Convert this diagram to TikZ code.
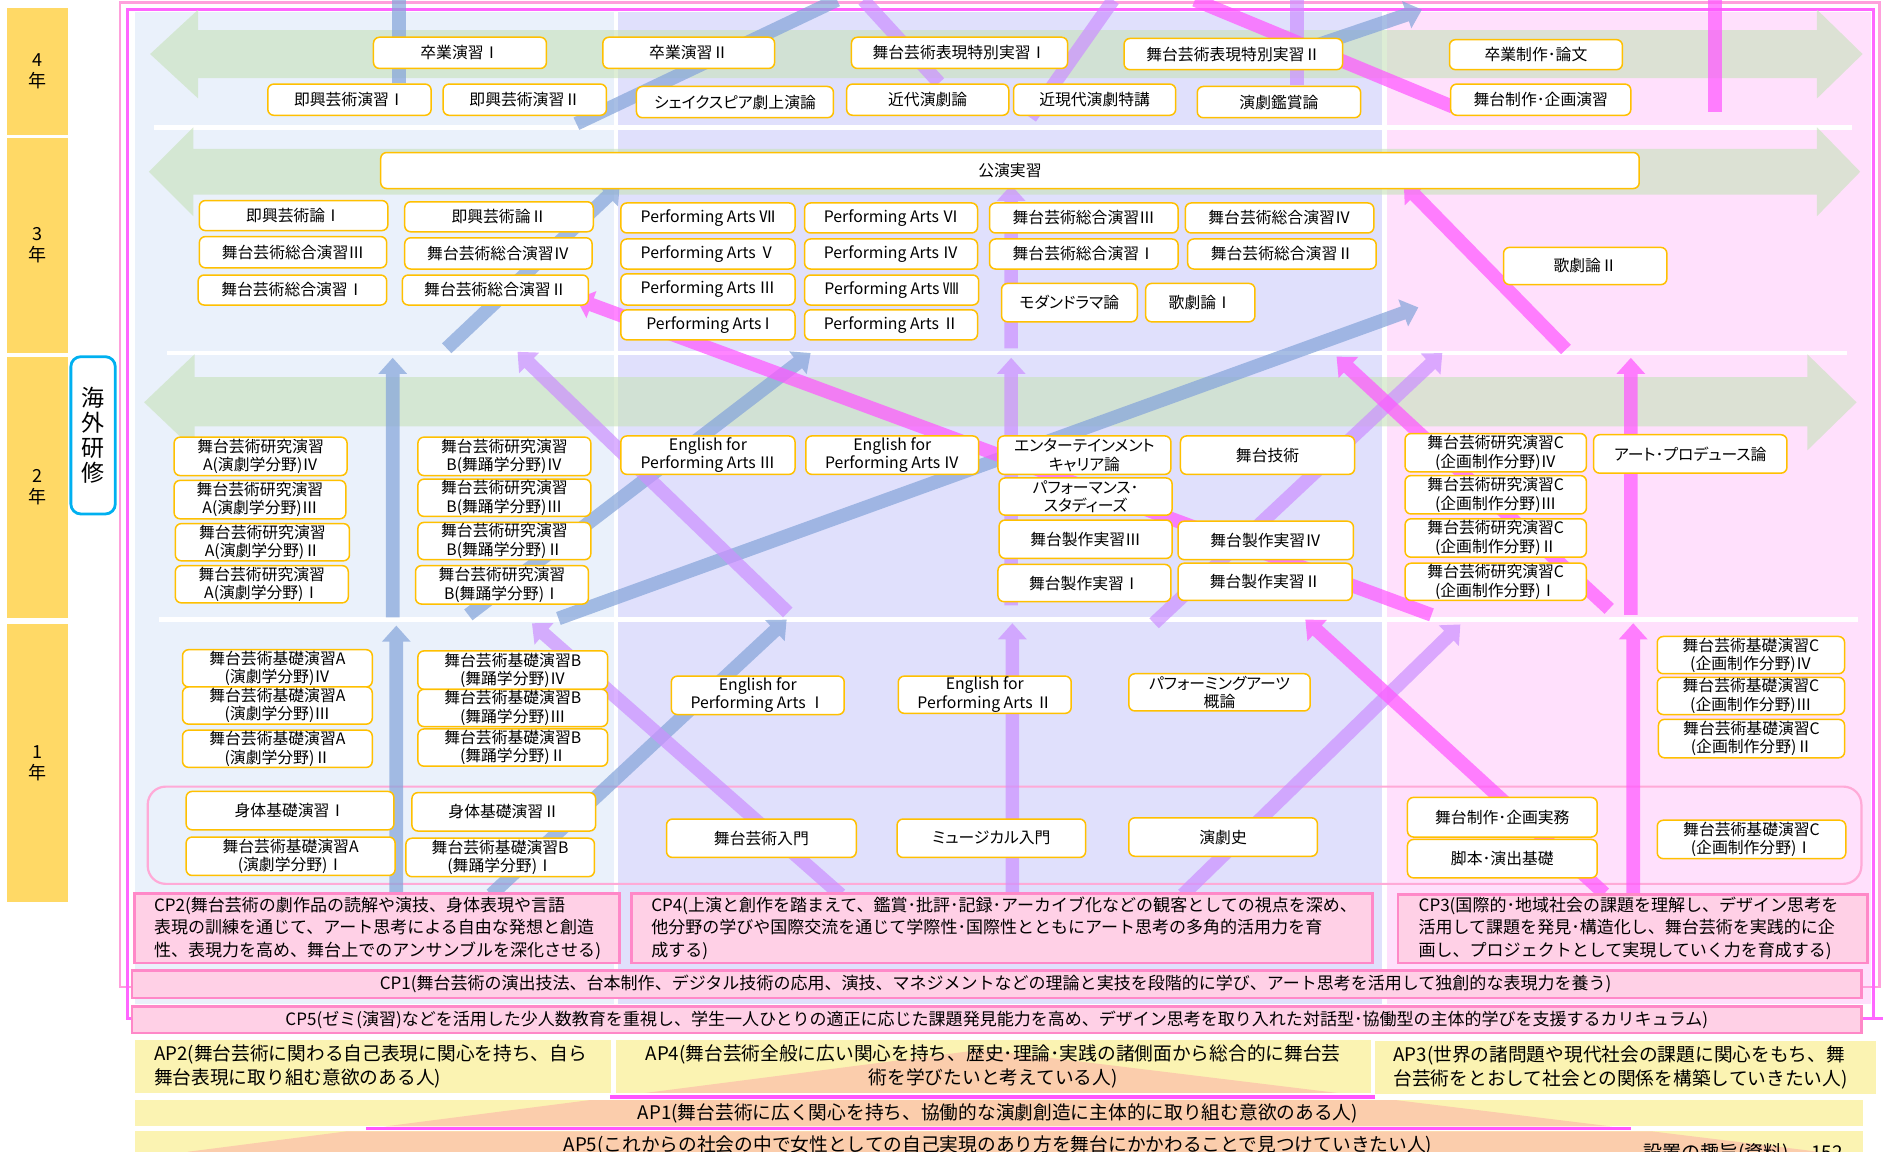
\documentclass[tikz,border=0pt]{standalone}
\usepackage{fontspec}
\setmainfont{Noto Sans CJK JP}
\newfontfamily\pfont{Noto Sans CJK JP}[RawFeature=+palt]
\usetikzlibrary{calc}
\definecolor{bgL}{RGB}{234,241,251}
\definecolor{bgM}{RGB}{224,224,252}
\definecolor{bgR}{RGB}{255,224,252}
\definecolor{grn}{RGB}{200,226,188}
\definecolor{boxor}{RGB}{255,192,0}
\definecolor{yrY}{RGB}{255,217,102}
\definecolor{kaiB}{RGB}{0,176,240}
\definecolor{frL}{RGB}{255,160,220}
\definecolor{frM}{RGB}{255,102,255}
\definecolor{grpP}{RGB}{255,170,215}
\definecolor{cpF}{RGB}{255,208,230}
\definecolor{cpB}{RGB}{255,136,200}
\definecolor{apY}{RGB}{251,243,178}
\definecolor{apP}{RGB}{251,205,172}
\definecolor{apL}{RGB}{255,85,255}
\definecolor{aBlue}{RGB}{134,165,218}
\definecolor{aLav}{RGB}{204,144,255}
\definecolor{aMag}{RGB}{255,87,255}
\tikzset{
  cbox/.style={draw=boxor, line width=0.75pt, fill=white, rounded corners=3pt, inner sep=0pt, align=center, font=\pfont\fontsize{7.9}{9.2}\selectfont},
  yrbox/.style={fill=yrY, inner sep=0pt, align=center, font=\fontsize{9}{10.5}\selectfont},
  kaibox/.style={draw=kaiB, line width=1.4pt, fill=white, rounded corners=5pt, inner sep=0pt, align=center, font=\fontsize{11.5}{12.4}\selectfont},
  cpbox/.style={draw=cpB, line width=1.2pt, fill=cpF, inner sep=0pt},
  apbox/.style={fill=apY, inner sep=0pt},
  cptext/.style={inner sep=0pt, align=left, font=\fontsize{8.5}{11.1}\selectfont},
  aptext/.style={inner sep=0pt, align=left, font=\fontsize{9.35}{11.7}\selectfont},
  blueA/.style={fill=aBlue, fill opacity=0.72},
  lavA/.style={fill=aLav, fill opacity=0.7},
  magA/.style={fill=aMag, fill opacity=0.72},
  grnA/.style={fill=grn, fill opacity=0.62},
}
\newcommand\rbox[7][cbox]{\node[#1, minimum width={(#5-#3)*0.6pt}, minimum height={(#6-#4)*0.6pt}] (#2) at ({(#3+#5)/2},{(#4+#6)/2}) {#7};}
\newcommand\fatarrow[3]{%
  \coordinate (faA) at (#2);
  \coordinate (faB) at (#3);
  \coordinate (faH) at ($(faB)!8pt!(faA)$);
  \fill[#1] ($(faA)!3.4pt!90:(faB)$) -- ($(faH)!3.4pt!90:(faB)$) -- ($(faH)!7.2pt!90:(faB)$) -- (faB) -- ($(faH)!7.2pt!-90:(faB)$) -- ($(faH)!3.4pt!-90:(faB)$) -- ($(faA)!3.4pt!-90:(faB)$) -- cycle;}
\newcommand\fatbar[3]{%
  \coordinate (faA) at (#2);
  \coordinate (faB) at (#3);
  \fill[#1] ($(faA)!3.4pt!90:(faB)$) -- ($(faB)!3.4pt!-90:(faA)$) -- ($(faB)!3.4pt!90:(faA)$) -- ($(faA)!3.4pt!-90:(faB)$) -- cycle;}
\begin{document}
\begin{tikzpicture}[x=0.6pt,y=-0.6pt]
\useasboundingbox (0,0) rectangle (1568,959);
\clip (0,0) rectangle (1568,959);
% column backgrounds
\fill[bgL] (112,10) rectangle (511,836);
\fill[bgM] (515,10) rectangle (1151,836);
\fill[bgR] (1155,10) rectangle (1558,836);
% white year separators
\draw[white, line width=2.2pt] (128,106) -- (1542,106);
\draw[white, line width=2.2pt] (139,294) -- (1538,294);
\draw[white, line width=2.2pt] (132,516) -- (1547,516);
% frames
\draw[frL, line width=1.3pt] (110,822) -- (100,822) -- (100,2) -- (1565,2) -- (1565,822) -- (1550,822);
\draw[frM, line width=1.5pt] (110,848) -- (106,848) -- (106,8) -- (1560,8) -- (1560,848);
\draw[frM, line width=1.5pt] (1550,848) -- (1568,848);
% green year arrows
\fill[grnA] (125,45) -- (165,8) -- (165,25) -- (1513,25) -- (1513,8) -- (1551,45) -- (1513,82) -- (1513,65) -- (165,65) -- (165,82) -- cycle;
\fill[grnA] (124,143) -- (161,106) -- (161,124) -- (1513,124) -- (1513,106) -- (1549,143) -- (1513,180) -- (1513,162) -- (161,162) -- (161,180) -- cycle;
\fill[grnA] (120,335) -- (162,295) -- (162,314) -- (1505,314) -- (1505,295) -- (1546,335) -- (1505,375) -- (1505,355) -- (162,355) -- (162,375) -- cycle;
% first-year group
\draw[grpP, line width=1.1pt, rounded corners=9pt] (123,655) rectangle (1550,736);
% thick arrows
\fatbar{blueA}{332,0}{332,69}
\fatbar{blueA}{480,103}{697,0}
\fatarrow{blueA}{1060,50}{1184,8}
\fatarrow{blueA}{372,290}{516,154}
\fatarrow{blueA}{327,514}{327,298}
\fatarrow{blueA}{330,744}{330,521}
\fatarrow{blueA}{390,512}{675,294}
\fatarrow{blueA}{465,515}{1181,256}
\fatarrow{blueA}{409,745}{655,516}
\fatbar{lavA}{719,0}{782,69}
\fatbar{lavA}{858,98}{927,0}
\fatbar{lavA}{1080,0}{1080,71}
\fatarrow{lavA}{842,290}{842,154}
\fatarrow{lavA}{656,510}{431,293}
\fatarrow{lavA}{842,504}{842,298}
\fatarrow{lavA}{961,519}{1201,294}
\fatarrow{lavA}{700,745}{443,519}
\fatarrow{lavA}{843,744}{843,519}
\fatarrow{lavA}{985,745}{1216,520}
\fatbar{magA}{995,0}{1210,89}
\fatbar{magA}{1428,0}{1428,93}
\fatarrow{magA}{1304,291}{1169,153}
\fatarrow{magA}{1192,512}{480,249}
\fatarrow{magA}{1340,507}{1113,297}
\fatarrow{magA}{1358,512}{1358,298}
\fatarrow{magA}{1336,744}{1087,516}
\fatarrow{magA}{1360,744}{1360,519}
% year labels
\rbox[yrbox]{yr4}{6}{7}{57}{112}{4\\年}
\rbox[yrbox]{yr3}{6}{115}{57}{294}{3\\年}
\rbox[yrbox]{yr2}{6}{297}{57}{515}{2\\年}
\rbox[yrbox]{yr1}{6}{520}{57}{751}{1\\年}
\rbox[kaibox]{kaigai}{59}{297}{96}{428}{海\\外\\研\\修}
% year 4
\rbox{y4a}{311}{31}{455}{57}{卒業演習Ⅰ}
\rbox{y4b}{502}{31}{645}{57}{卒業演習Ⅱ}
\rbox{y4c}{709}{31}{889}{57}{舞台芸術表現特別実習Ⅰ}
\rbox{y4d}{936}{32}{1118}{58}{舞台芸術表現特別実習Ⅱ}
\rbox{y4e}{1207}{33}{1351}{58}{卒業制作･論文}
\rbox{y4f}{223}{70}{359}{96}{即興芸術演習Ⅰ}
\rbox{y4g}{369}{70}{505}{96}{即興芸術演習Ⅱ}
\rbox{y4h}{530}{72}{694}{98}{シェイクスピア劇上演論}
\rbox{y4i}{705}{70}{840}{96}{近代演劇論}
\rbox{y4j}{844}{70}{979}{96}{近現代演劇特講}
\rbox{y4k}{997}{72}{1133}{98}{演劇鑑賞論}
\rbox{y4l}{1208}{70}{1358}{96}{舞台制作･企画演習}
% year 3
\rbox{kouen}{317}{127}{1365}{157}{公演実習}
\rbox{y3a}{166}{167}{323}{192}{即興芸術論Ⅰ}
\rbox{y3b}{337}{168}{494}{193}{即興芸術論Ⅱ}
\rbox{y3c}{166}{197}{322}{223}{舞台芸術総合演習Ⅲ}
\rbox{y3d}{337}{198}{493}{224}{舞台芸術総合演習Ⅳ}
\rbox{y3e}{165}{229}{322}{254}{舞台芸術総合演習Ⅰ}
\rbox{y3f}{335}{229}{490}{254}{舞台芸術総合演習Ⅱ}
\rbox{pa7}{517}{169}{662}{194}{Performing Arts Ⅶ}
\rbox{pa6}{670}{169}{814}{194}{Performing Arts Ⅵ}
\rbox{pa5}{517}{199}{662}{224}{Performing Arts Ⅴ}
\rbox{pa4}{670}{199}{814}{224}{Performing Arts Ⅳ}
\rbox{pa3}{517}{228}{662}{254}{Performing Arts Ⅲ}
\rbox{pa8}{670}{229}{815}{254}{Performing Arts Ⅷ}
\rbox{pa1}{517}{258}{662}{283}{Performing Arts I}
\rbox{pa2}{670}{258}{814}{283}{Performing Arts Ⅱ}
\rbox{y3g}{824}{169}{981}{194}{舞台芸術総合演習Ⅲ}
\rbox{y3h}{987}{169}{1144}{194}{舞台芸術総合演習Ⅳ}
\rbox{y3i}{824}{199}{981}{224}{舞台芸術総合演習Ⅰ}
\rbox{y3j}{989}{199}{1146}{224}{舞台芸術総合演習Ⅱ}
\rbox{y3k}{834}{236}{947}{268}{モダンドラマ論}
\rbox{y3l}{954}{236}{1045}{268}{歌劇論Ⅰ}
\rbox{y3m}{1252}{206}{1388}{237}{歌劇論Ⅱ}
% year 2
\rbox{ra4}{145}{364}{289}{396}{舞台芸術研究演習\\A(演劇学分野)Ⅳ}
\rbox{ra3}{145}{400}{288}{432}{舞台芸術研究演習\\A(演劇学分野)Ⅲ}
\rbox{ra2}{146}{436}{291}{467}{舞台芸術研究演習\\A(演劇学分野)Ⅱ}
\rbox{ra1}{146}{471}{290}{502}{舞台芸術研究演習\\A(演劇学分野)Ⅰ}
\rbox{rb4}{348}{364}{492}{396}{舞台芸術研究演習\\B(舞踊学分野)Ⅳ}
\rbox{rb3}{348}{399}{492}{430}{舞台芸術研究演習\\B(舞踊学分野)Ⅲ}
\rbox{rb2}{348}{435}{492}{466}{舞台芸術研究演習\\B(舞踊学分野)Ⅱ}
\rbox{rb1}{346}{471}{490}{503}{舞台芸術研究演習\\B(舞踊学分野)Ⅰ}
\rbox{en3}{517}{363}{662}{395}{English for\\Performing Arts Ⅲ}
\rbox{en4}{671}{363}{815}{395}{English for\\Performing Arts Ⅳ}
\rbox{ent}{831}{363}{975}{395}{エンターテインメント\\キャリア論}
\rbox{pfs}{832}{398}{976}{429}{パフォーマンス･\\スタディーズ}
\rbox{sj3}{832}{433}{976}{465}{舞台製作実習Ⅲ}
\rbox{sj1}{831}{470}{975}{501}{舞台製作実習Ⅰ}
\rbox{gij}{983}{363}{1128}{395}{舞台技術}
\rbox{sj4}{981}{434}{1127}{466}{舞台製作実習Ⅳ}
\rbox{sj2}{981}{469}{1126}{500}{舞台製作実習Ⅱ}
\rbox{rc4}{1170}{361}{1321}{393}{舞台芸術研究演習C\\(企画制作分野)Ⅳ}
\rbox{rc3}{1170}{396}{1321}{428}{舞台芸術研究演習C\\(企画制作分野)Ⅲ}
\rbox{rc2}{1170}{432}{1321}{464}{舞台芸術研究演習C\\(企画制作分野)Ⅱ}
\rbox{rc1}{1170}{469}{1321}{500}{舞台芸術研究演習C\\(企画制作分野)Ⅰ}
\rbox{apr}{1327}{362}{1488}{394}{アート･プロデュース論}
% year 1
\rbox{ka4}{152}{541}{310}{572}{舞台芸術基礎演習A\\(演劇学分野)Ⅳ}
\rbox{ka3}{152}{572}{310}{603}{舞台芸術基礎演習A\\(演劇学分野)Ⅲ}
\rbox{ka2}{152}{608}{310}{639}{舞台芸術基礎演習A\\(演劇学分野)Ⅱ}
\rbox{kb4}{348}{542}{506}{574}{舞台芸術基礎演習B\\(舞踊学分野)Ⅳ}
\rbox{kb3}{348}{574}{506}{605}{舞台芸術基礎演習B\\(舞踊学分野)Ⅲ}
\rbox{kb2}{348}{607}{506}{638}{舞台芸術基礎演習B\\(舞踊学分野)Ⅱ}
\rbox{en1}{559}{563}{703}{595}{English for\\Performing Arts Ⅰ}
\rbox{en2}{748}{563}{892}{594}{English for\\Performing Arts Ⅱ}
\rbox{pag}{940}{561}{1091}{592}{パフォーミングアーツ\\概論}
\rbox{kc4}{1380}{530}{1536}{561}{舞台芸術基礎演習C\\(企画制作分野)Ⅳ}
\rbox{kc3}{1380}{564}{1536}{595}{舞台芸術基礎演習C\\(企画制作分野)Ⅲ}
\rbox{kc2}{1381}{599}{1536}{631}{舞台芸術基礎演習C\\(企画制作分野)Ⅱ}
\rbox{sk1}{155}{659}{328}{691}{身体基礎演習Ⅰ}
\rbox{sk2}{343}{660}{496}{692}{身体基礎演習Ⅱ}
\rbox{ka1}{155}{697}{329}{729}{舞台芸術基礎演習A\\(演劇学分野)Ⅰ}
\rbox{kb1}{338}{698}{495}{730}{舞台芸術基礎演習B\\(舞踊学分野)Ⅰ}
\rbox{nyu}{555}{682}{713}{714}{舞台芸術入門}
\rbox{mus}{747}{682}{904}{714}{ミュージカル入門}
\rbox{eng}{940}{681}{1097}{713}{演劇史}
\rbox{kjm}{1172}{664}{1330}{697}{舞台制作･企画実務}
\rbox{kyk}{1172}{699}{1330}{731}{脚本･演出基礎}
\rbox{kc1}{1380}{683}{1537}{715}{舞台芸術基礎演習C\\(企画制作分野)Ⅰ}
% CP boxes
\rbox[cpbox]{cp2}{112}{744}{516}{802}{}
\rbox[cpbox]{cp4}{526}{744}{1143}{802}{}
\rbox[cpbox]{cp3}{1164}{745}{1555}{802}{}
\rbox[cpbox]{cp1}{110}{808}{1550}{831}{}
\rbox[cpbox]{cp5}{110}{838}{1550}{860}{}
\node[cptext, anchor=west] (cp2t) at (128,773) {CP2(舞台芸術の劇作品の読解や演技、身体表現や言語\\表現の訓練を通じて、アート思考による自由な発想と創造\\性、表現力を高め、舞台上でのアンサンブルを深化させる)};
\node[cptext, anchor=west] (cp4t) at (542,773) {CP4(上演と創作を踏まえて、鑑賞･批評･記録･アーカイブ化などの観客としての視点を深め、\\他分野の学びや国際交流を通じて学際性･国際性とともにアート思考の多角的活用力を育\\成する)};
\node[cptext, anchor=west] (cp3t) at (1181,773) {CP3(国際的･地域社会の課題を理解し、デザイン思考を\\活用して課題を発見･構造化し、舞台芸術を実践的に企\\画し、プロジェクトとして実現していく力を育成する)};
\node[cptext] (cp1t) at (829,819.5) {CP1(舞台芸術の演出技法、台本制作、デジタル技術の応用、演技、マネジメントなどの理論と実技を段階的に学び、アート思考を活用して独創的な表現力を養う)};
\node[cptext] (cp5t) at (830,849) {CP5(ゼミ(演習)などを活用した少人数教育を重視し、学生一人ひとりの適正に応じた課題発見能力を高め、デザイン思考を取り入れた対話型･協働型の主体的学びを支援するカリキュラム)};
% AP area
\rbox[apbox]{ap2}{112}{866}{509}{910}{}
\rbox[apbox]{ap4}{513}{866}{1142}{910}{}
\rbox[apbox]{ap3}{1145}{867}{1562}{911}{}
\rbox[apbox]{ap1}{112}{916}{1551}{938}{}
\rbox[apbox]{ap5}{112}{942}{1551}{975}{}
\begin{scope}
\clip (112,866) rectangle (509,910) (513,866) rectangle (1142,910) (1145,867) rectangle (1562,911) (112,916) rectangle (1551,938) (112,942) rectangle (1551,975);
\fill[apP] (818,874) -- (1514,959) -- (1560,975) -- (120,975) -- (157,959) -- cycle;
\end{scope}
\draw[apL, line width=1.6pt] (508,913.5) -- (1145,913.5);
\draw[apL, line width=1.6pt] (305,940) -- (1358,940);
\node[aptext, anchor=west] (ap2t) at (128,888) {AP2(舞台芸術に関わる自己表現に関心を持ち、自ら\\舞台表現に取り組む意欲のある人)};
\node[aptext, align=center] (ap4t) at (827,888) {AP4(舞台芸術全般に広い関心を持ち、歴史･理論･実践の諸側面から総合的に舞台芸\\術を学びたいと考えている人)};
\node[aptext, anchor=west] (ap3t) at (1160,889) {AP3(世界の諸問題や現代社会の課題に関心をもち、舞\\台芸術をとおして社会との関係を構築していきたい人)};
\node[aptext] (ap1t) at (831,927) {AP1(舞台芸術に広く関心を持ち、協働的な演劇創造に主体的に取り組む意欲のある人)};
\node[aptext] (ap5t) at (831,954) {AP5(これからの社会の中で女性としての自己実現のあり方を舞台にかかわることで見つけていきたい人)};
\node[inner sep=0pt, anchor=west, font=\fontsize{9.5}{10}\selectfont] (page) at (1368,960) {設置の趣旨(資料)\hspace{0.8em}-152-};
\end{tikzpicture}
\end{document}
